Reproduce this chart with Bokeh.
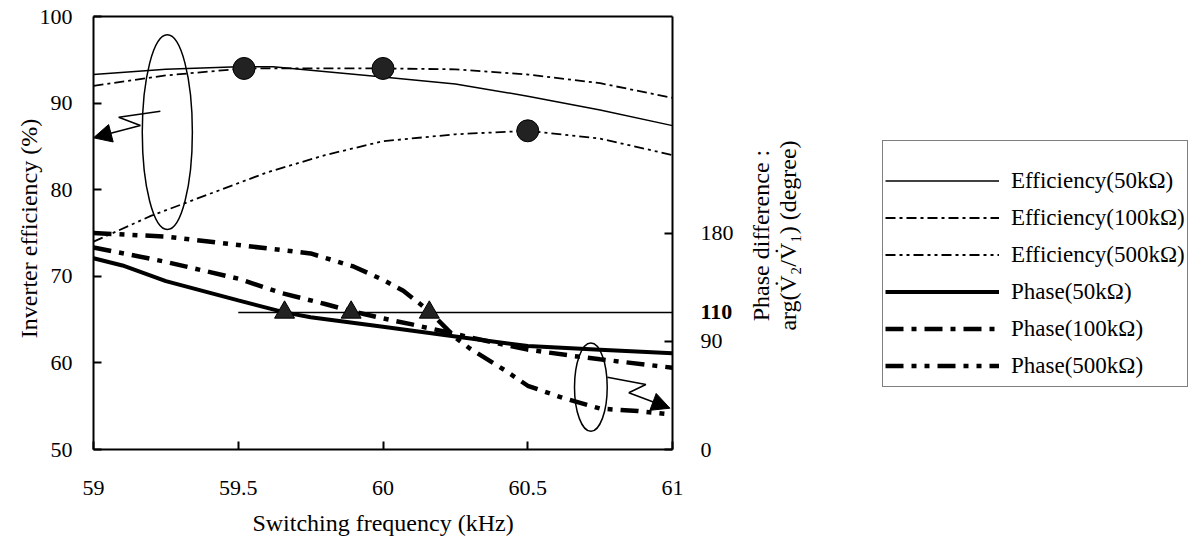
from math import pi
from bokeh.plotting import figure
from bokeh.models import (Range1d, LinearAxis, FixedTicker, Legend, LegendItem,
                          Label, Arrow, NormalHead)
from bokeh.embed import file_html
from bokeh.resources import INLINE

# ---------------- data ----------------
freq_eff50 = [59.0, 59.25, 59.5, 59.62, 60.0, 60.25, 60.5, 60.75, 61.0]
eff50 = [93.3, 93.9, 94.2, 94.2, 93.0, 92.2, 90.8, 89.2, 87.4]

freq_eff100 = [59.0, 59.25, 59.52, 60.0, 60.25, 60.5, 60.75, 61.0]
eff100 = [92.0, 93.2, 94.0, 94.0, 93.9, 93.3, 92.3, 90.6]

freq_eff500 = [59.0, 59.2, 59.4, 59.6, 59.8, 60.0, 60.25, 60.5, 60.75, 61.0]
eff500 = [74.0, 77.0, 79.5, 82.0, 84.0, 85.6, 86.4, 86.8, 85.9, 84.0]

freq_ph50 = [59.0, 59.1, 59.25, 59.5, 59.66, 59.75, 60.0, 60.25, 60.5, 60.75, 61.0]
ph50 = [159, 153, 140, 124, 114, 110, 102, 94, 86, 83, 80]

freq_ph100 = [59.0, 59.25, 59.5, 59.65, 59.8, 59.89, 60.0, 60.1, 60.25, 60.4, 60.5, 60.65, 60.75, 61.0]
ph100 = [168, 156, 142, 130, 121, 115, 109, 104, 96, 88, 83, 78, 75, 68]

freq_ph500 = [59.0, 59.25, 59.5, 59.75, 59.9, 60.0, 60.07, 60.16, 60.25, 60.3, 60.42, 60.5, 60.62, 60.75, 60.88, 61.0]
ph500 = [180, 177, 170, 163, 152, 141, 132, 115, 93, 84, 66, 53, 43, 34, 32, 29]

peak_freq = [59.52, 60.0, 60.5]
peak_eff = [94.0, 94.0, 86.8]

cross_freq = [59.66, 59.89, 60.16]
ref_label = "110"
ref_phase = 114          # level of the drawn reference line
ref_line_freq = [59.5, 61.0]

x_ticks = [59, 59.5, 60, 60.5, 61]
x_tick_labels = ["59", "59.5", "60", "60.5", "61"]
eff_ticks = [50, 60, 70, 80, 90, 100]
phase_ticks = [0, 90, 180]

FONT = "'Liberation Serif', 'Times New Roman', 'DejaVu Serif', serif"

# ---------------- layout (pixels of the page) ----------------
W, H = 1189, 542
PL, PR, PT, PB = 93, 672, 16, 449          # plot box edges
X0, X1 = 59.0, 61.0
E0, E1 = 50.0, 100.0
P0, P1 = 0.0, 360.0
kx = (PR - PL) / (X1 - X0)
ke = (PB - PT) / (E1 - E0)
kp = (PB - PT) / (P1 - P0)


def fx(px):
    return X0 + (px - PL) / kx


def fe(py):
    return E0 + (PB - py) / ke


def fp(py):
    return P0 + (PB - py) / kp


p = figure(width=W, height=H, output_backend="svg", toolbar_location=None,
           x_range=Range1d(fx(0), fx(W)), y_range=Range1d(fe(H), fe(0)),
           min_border=0, min_border_left=0, min_border_right=0,
           min_border_top=0, min_border_bottom=0)
p.extra_y_ranges = {"phase": Range1d(fp(H), fp(0))}
p.grid.visible = False
p.outline_line_color = None
p.background_fill_color = "white"
p.border_fill_color = "white"

xa = p.xaxis[0]
xa.ticker = FixedTicker(ticks=x_ticks)
xa.major_label_overrides = {t: s for t, s in zip(x_ticks, x_tick_labels)}
xa.bounds = (X0, X1)
xa.fixed_location = E0
ya = p.yaxis[0]
ya.ticker = FixedTicker(ticks=eff_ticks)
ya.bounds = (E0, E1)
ya.fixed_location = X0

ra = LinearAxis(y_range_name="phase", ticker=FixedTicker(ticks=phase_ticks),
                fixed_location=X1, bounds=(P0, P1))
p.add_layout(ra, "right")
ta = LinearAxis(ticker=FixedTicker(ticks=[]), bounds=(X0, X1), fixed_location=E1)
p.add_layout(ta, "above")

for ax in (xa, ya, ra, ta):
    ax.major_tick_in = 8
    ax.major_tick_out = 0
    ax.minor_tick_line_color = None
    ax.major_tick_line_width = 2
    ax.axis_line_width = 2
    ax.axis_line_color = "black"
    ax.major_tick_line_color = "black"
    ax.major_label_text_font = FONT
    ax.major_label_text_font_size = "22px"
    ax.major_label_text_color = "black"
xa.major_label_standoff = 31
ya.major_label_standoff = 21
ra.major_label_standoff = 28

# reference line
p.line(ref_line_freq, [ref_phase, ref_phase], y_range_name="phase",
       line_color="black", line_width=1.5)

# efficiency curves
r_e50 = p.line(freq_eff50, eff50, line_color="black", line_width=1.5)
r_e100 = p.line(freq_eff100, eff100, line_color="black", line_width=1.8,
                line_dash="10 4 3 4")
r_e500 = p.line(freq_eff500, eff500, line_color="black", line_width=1.8,
                line_dash="10 4 3 4 3 4")

# phase curves
r_p50 = p.line(freq_ph50, ph50, y_range_name="phase", line_color="black", line_width=4)
r_p100 = p.line(freq_ph100, ph100, y_range_name="phase", line_color="black",
                line_width=4.5, line_dash="18 8 5 8")
r_p500 = p.line(freq_ph500, ph500, y_range_name="phase", line_color="black",
                line_width=4.5, line_dash="18 8 5 8 5 8")

# markers
p.scatter(peak_freq, peak_eff, marker="circle", size=22, fill_color="#222222",
          line_color="black", line_width=1)
p.scatter(cross_freq, [ref_phase] * len(cross_freq), y_range_name="phase",
          marker="triangle", size=20, fill_color="#222222", line_color="black",
          line_width=1)

# annotation ellipses and zig-zag arrows
p.ellipse(x=[59.255], y=[86.64], width=[0.173], height=[22.5], fill_color=None,
          line_color="black", line_width=1.5)
p.line([59.231, 59.087, 59.162], [89.06, 88.37, 87.41], line_color="black", line_width=1.5)
p.add_layout(Arrow(end=NormalHead(size=18, fill_color="black", line_color="black"),
                   x_start=59.162, y_start=87.41, x_end=59.0, y_end=85.99,
                   line_color="black", line_width=1.5))

p.ellipse(x=[60.718], y=[57.2], width=[0.113], height=[10.2], fill_color=None,
          line_color="black", line_width=1.5)
p.line([60.775, 60.908, 60.849], [58.35, 57.5, 56.55], line_color="black", line_width=1.5)
p.add_layout(Arrow(end=NormalHead(size=18, fill_color="black", line_color="black"),
                   x_start=60.849, y_start=56.55, x_end=60.991, y_end=54.77,
                   line_color="black", line_width=1.5))

# axis titles and extra labels
TITLE_SIZE = "24px"
label_style = dict(text_font=FONT, text_color="black", text_baseline="middle")
p.add_layout(Label(x=(X0 + X1) / 2, y=fe(522), text="Switching frequency (kHz)",
                   text_font_size=TITLE_SIZE, text_align="center", **label_style))
p.add_layout(Label(x=fx(28), y=fe(228), text="Inverter efficiency (%)",
                   text_font_size=TITLE_SIZE, angle=pi / 2, text_align="center",
                   **label_style))
p.add_layout(Label(x=fx(PR + 28), y=ref_phase, y_range_name="phase", text=ref_label,
                   text_font_size="22px", text_font_style="bold", text_align="left",
                   **label_style))
p.add_layout(Label(x=fx(760), y=fe(235), text="Phase difference :",
                   text_font_size=TITLE_SIZE, angle=pi / 2, text_align="center",
                   **label_style))
p.add_layout(Label(x=fx(787), y=fe(235),
                   text="arg(V\u0307\u2082/V\u0307\u2081) (degree)",
                   text_font_size=TITLE_SIZE, angle=pi / 2, text_align="center",
                   **label_style))

legend = Legend(items=[
    LegendItem(label="Efficiency(50k\u03a9)", renderers=[r_e50]),
    LegendItem(label="Efficiency(100k\u03a9)", renderers=[r_e100]),
    LegendItem(label="Efficiency(500k\u03a9)", renderers=[r_e500]),
    LegendItem(label="Phase(50k\u03a9)", renderers=[r_p50]),
    LegendItem(label="Phase(100k\u03a9)", renderers=[r_p100]),
    LegendItem(label="Phase(500k\u03a9)", renderers=[r_p500]),
], location=(882, H - 387))
legend.border_line_color = "black"
legend.border_line_width = 1.5
legend.background_fill_alpha = 1
legend.padding = 2
legend.spacing = 0
legend.margin = 0
legend.label_height = 37
legend.glyph_height = 37
legend.glyph_width = 114
legend.label_standoff = 12
legend.label_text_font = FONT
legend.label_text_font_size = "23px"
legend.label_text_color = "black"
legend.title = " "
legend.title_text_font_size = "12px"
legend.title_standoff = 5
p.add_layout(legend)

open("out.html", "w").write(file_html(p, INLINE))
